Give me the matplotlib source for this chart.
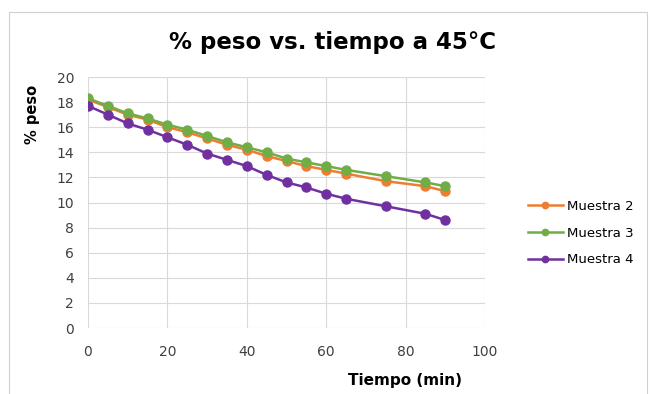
import matplotlib
matplotlib.use('Agg')
import matplotlib.pyplot as plt
from matplotlib.patches import Rectangle

tiempo = [0, 5, 10, 15, 20, 25, 30, 35, 40, 45, 50, 55, 60, 65, 75, 85, 90]
muestra2 = [18.2, 17.6, 17.0, 16.6, 16.0, 15.6, 15.1, 14.6, 14.2, 13.7, 13.3,
            12.9, 12.6, 12.3, 11.7, 11.3, 10.9]
muestra3 = [18.3, 17.7, 17.1, 16.7, 16.2, 15.8, 15.3, 14.8, 14.4, 14.0, 13.5,
            13.2, 12.9, 12.6, 12.1, 11.6, 11.3]
muestra4 = [17.7, 17.0, 16.3, 15.8, 15.2, 14.6, 13.9, 13.4, 12.9, 12.2, 11.6,
            11.2, 10.7, 10.3, 9.7, 9.1, 8.6]

W, H = 656, 394
fig = plt.figure(figsize=(W / 100, H / 100), dpi=100)
ax = fig.add_axes([88 / W, 1 - 328 / H, (485 - 88) / W, (328 - 77) / H])

for y, col, name in [(muestra2, '#ED7D31', 'Muestra 2'),
                     (muestra3, '#70AD47', 'Muestra 3'),
                     (muestra4, '#7030A0', 'Muestra 4')]:
    ax.plot(tiempo, y, color=col, lw=1.8, marker='o', ms=6.5, label=name)

ax.set_xlim(0, 100)
ax.set_ylim(0, 20)
ax.set_xticks(range(0, 101, 20))
ax.set_yticks(range(0, 21, 2))
ax.grid(color='#d9d9d9', lw=0.8)
ax.set_axisbelow(True)
for s in ax.spines.values():
    s.set_visible(False)
ax.tick_params(length=0, labelsize=10, colors='#404040')
ax.tick_params(axis='x', pad=12)
ax.tick_params(axis='y', pad=10)

# titles placed in figure pixels to match the reference layout
fig.text(333 / W, 1 - 43 / H, '% peso vs. tiempo a 45°C', fontsize=16.5,
         fontweight='bold', ha='center', va='center')
fig.text(405 / W, 1 - 381 / H, 'Tiempo (min)', fontsize=11,
         fontweight='bold', ha='center', va='center')
fig.text(33 / W, 1 - 114 / H, '% peso', fontsize=10.5, fontweight='bold',
         rotation=90, ha='center', va='center')

h, l = ax.get_legend_handles_labels()
fig.legend(h, l, loc='center left', bbox_to_anchor=(523 / W, 1 - 233 / H),
           frameon=False, fontsize=9.5, handlelength=2.6, handletextpad=0.3,
           labelspacing=1.05, markerscale=0.7, borderaxespad=0)

fig.patches.append(Rectangle((9 / W, -0.01), (647 - 9) / W, 1.01 - 12 / H,
                             transform=fig.transFigure, fill=False,
                             edgecolor='#d0d0d0', lw=0.8))
fig.savefig('out.png', dpi=100)
